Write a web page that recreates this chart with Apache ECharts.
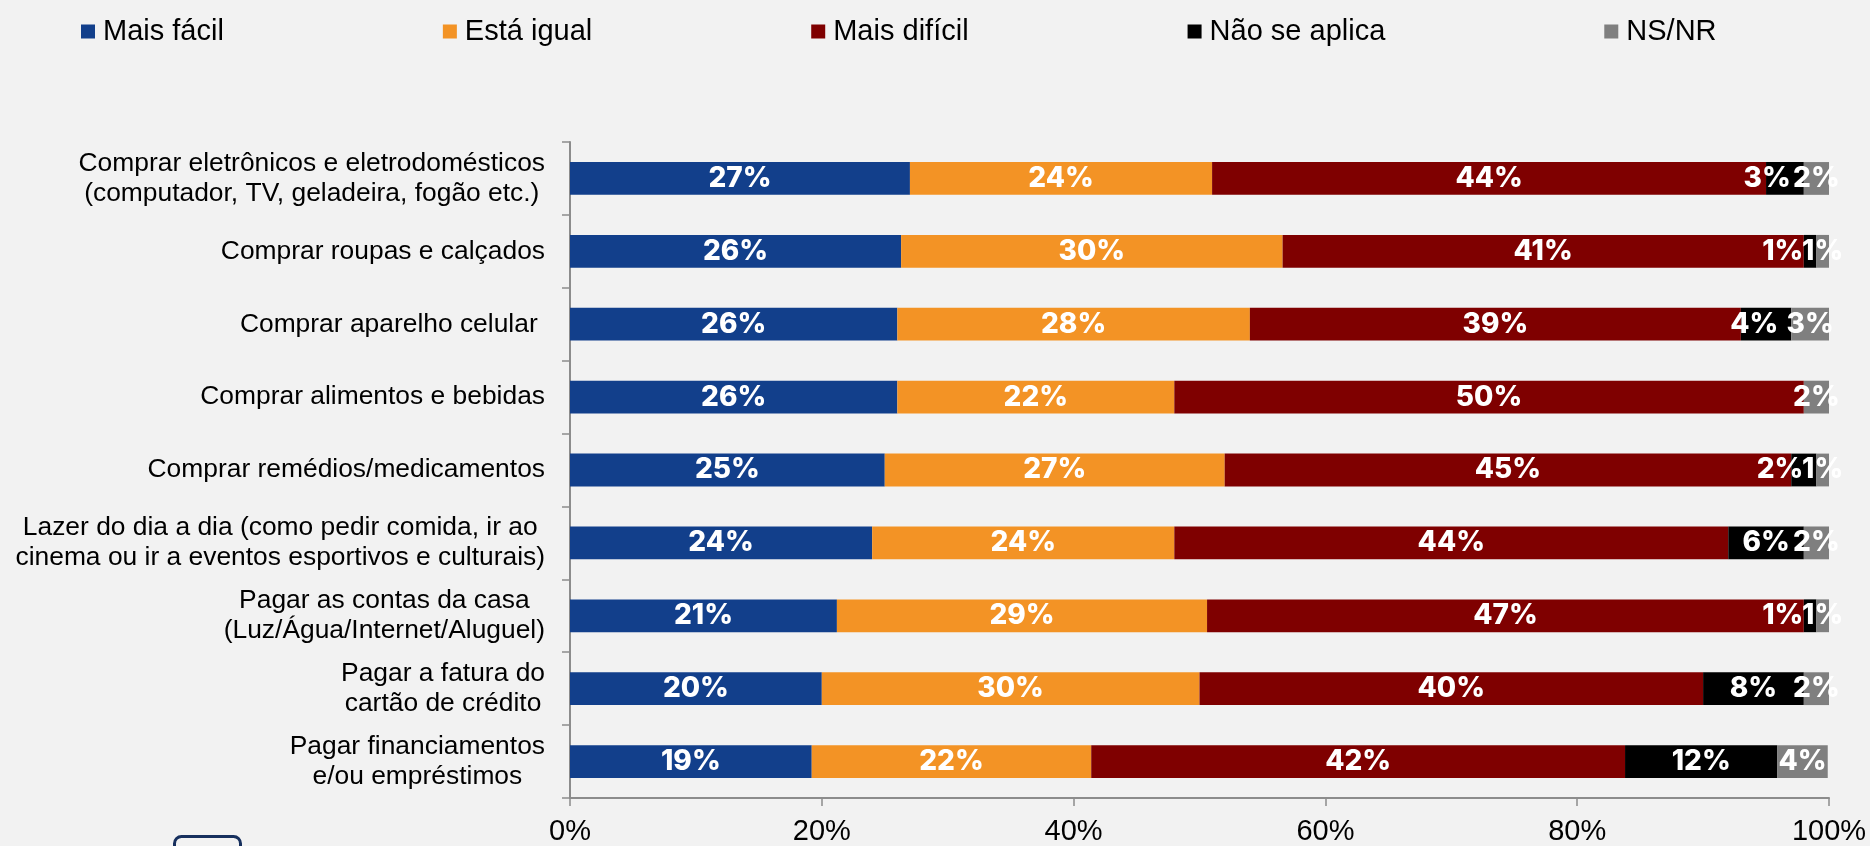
<!DOCTYPE html>
<html>
<head>
<meta charset="utf-8">
<script src="https://cdn.jsdelivr.net/npm/echarts@6/dist/echarts.min.js"></script>
<style>
html,body{margin:0;padding:0;background:#F2F2F2;}
#chart{width:1870px;height:846px;}
</style>
</head>
<body>
<div id="chart"></div>
<script>
const categories = [
  'Comprar eletrônicos e eletrodomésticos\n(computador, TV, geladeira, fogão etc.)',
  'Comprar roupas e calçados',
  'Comprar aparelho celular ',
  'Comprar alimentos e bebidas',
  'Comprar remédios/medicamentos',
  'Lazer do dia a dia (como pedir comida, ir ao\ncinema ou ir a eventos esportivos e culturais)',
  'Pagar as contas da casa\n(Luz/Água/Internet/Aluguel)',
  'Pagar a fatura do\ncartão de crédito',
  'Pagar financiamentos\ne/ou empréstimos'
];
const seriesNames = ['Mais fácil', 'Está igual', 'Mais difícil', 'Não se aplica', 'NS/NR'];
const maisFacil   = [27, 26.3, 26, 26, 25, 24, 21.2, 20, 19.2];
const estaIgual   = [24, 30.3, 28, 22, 27, 24, 29.4, 30, 22.2];
const maisDificil = [44, 41.4, 39, 50, 45, 44, 47.4, 40, 42.4];
const naoSeAplica = [3, 1.0, 4, 0, 2, 6, 1, 8, 12.1];
const nsnr        = [2, 1.0, 3, 2, 1, 2, 1, 2, 4.0];
const xTicks = [0, 20, 40, 60, 80, 100];

const colors = ['#123F8B', '#F39325', '#7F0000', '#000000', '#7F7F7F'];
const valueSets = [maisFacil, estaIgual, maisDificil, naoSeAplica, nsnr];
const labelFont = 'Inter';
const textFont = '"Liberation Sans", Arial, sans-serif';

const chart = echarts.init(document.getElementById('chart'), null, {renderer: 'canvas'});

const series = seriesNames.map((name, si) => ({
  name: name,
  type: 'bar',
  stack: 'total',
  barWidth: '45%',
  itemStyle: {color: colors[si]},
  emphasis: {disabled: true},
  data: valueSets[si].map(v => {
    const item = {value: v};
    if (si === 3 && v > 0 && v <= 4) {
      item.label = {position: 'insideRight', distance: 13};
    }
    return item;
  }),
  label: {
    show: true,
    position: 'inside',
    color: '#FFFFFF',
    fontFamily: labelFont,
    fontWeight: 800,
    fontSize: 28,
    formatter: p => (p.value > 0 ? Math.round(p.value) + '%' : '')
  }
}));

const option = {
  backgroundColor: '#F2F2F2',
  animation: false,
  legend: {
    data: seriesNames,
    left: 76,
    top: 12,
    itemWidth: 14,
    itemHeight: 14,
    itemGap: 219,
    icon: 'rect',
    textStyle: {fontFamily: textFont, fontSize: 29, color: '#000', padding: [0, 0, 0, 3]}
  },
  grid: {left: 570, right: 41, top: 142, bottom: 48, containLabel: false},
  xAxis: {
    type: 'value',
    min: xTicks[0],
    max: xTicks[xTicks.length - 1],
    interval: xTicks[1] - xTicks[0],
    axisLine: {show: true, lineStyle: {color: '#8C8C8C', width: 2}},
    axisTick: {show: true, length: 8, lineStyle: {color: '#8C8C8C', width: 1.5}},
    splitLine: {show: false},
    axisLabel: {
      formatter: '{value}%',
      fontFamily: textFont,
      fontSize: 29,
      color: '#000',
      margin: 19
    }
  },
  yAxis: {
    type: 'category',
    inverse: true,
    data: categories,
    axisLine: {show: true, lineStyle: {color: '#8C8C8C', width: 2}},
    axisTick: {show: true, length: 8, lineStyle: {color: '#8C8C8C', width: 1.5}},
    axisLabel: {
      interval: 0,
      margin: 25,
      fontFamily: textFont,
      fontSize: 26.4,
      color: '#000',
      formatter: v => '{c|' + v + '}',
      rich: {
        c: {align: 'center', fontFamily: textFont, fontSize: 26.4, lineHeight: 30, color: '#000'}
      }
    }
  },
  graphic: [{
    type: 'rect',
    left: 172,
    top: 834,
    shape: {width: 66, height: 30, r: 7},
    style: {fill: 'none', stroke: '#17305E', lineWidth: 3},
    silent: true
  }],
  series: series
};
chart.setOption(option);
</script>
</body>
</html>
